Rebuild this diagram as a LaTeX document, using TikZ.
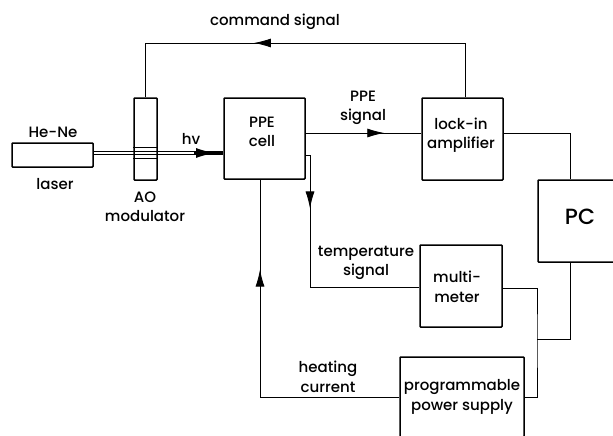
\documentclass[tikz,border=0pt]{standalone}
\usepackage{fontspec}
\setmainfont{Poppins Medium}
\usetikzlibrary{arrows.meta, decorations.markings}

\tikzset{
  blk/.style={draw, line width=1.5pt, rounded corners=0.8pt, inner sep=0pt, align=center},
  lbl/.style={inner sep=0pt, align=center},
  wire/.style={line width=0.9pt},
  midarrow/.style={postaction={decorate, decoration={markings,
      mark=at position #1 with {\arrow{Latex[length=17pt, width=9pt]}}}}}
}

\begin{document}
\begin{tikzpicture}[x=1pt, y=-1pt, font=\fontsize{15}{19.5}\selectfont]

\clip (0, 0) rectangle (613, 436);

% boxes
\node[blk, minimum width=81, minimum height=24] (laser) at (52.5, 155) {};
\node[blk, minimum width=23, minimum height=82] (aom) at (145.5, 139) {};
\node[blk, minimum width=81, minimum height=81] (ppe) at (264.5, 138.5) {};
\node[blk, minimum width=81, minimum height=82] (lockin) at (462.5, 139) {};
\node[blk, minimum width=120, minimum height=82] (pc) at (598, 221) {};
\node[blk, minimum width=82, minimum height=82] (meter) at (461, 286) {};
\node[blk, minimum width=124, minimum height=80] (supply) at (462, 397) {};

% labels
\node[lbl] (hene) at (53, 132) {He-Ne};
\node[lbl] (laserlbl) at (55, 184) {laser};
\node[lbl] (aomlbl) at (145, 207) {AO\\modulator};
\node[lbl] (hv) at (191, 139) {hv};
\node[lbl] (ppelbl) at (262, 132) {PPE\\cell};
\node[lbl] (sig) at (363, 108) {PPE\\signal};
\node[lbl] (locklbl) at (461, 135) {lock-in\\amplifier};
\node[lbl, font=\fontsize{22}{24}\selectfont] (pclbl) at (580, 217) {PC};
\node[lbl] (cmd) at (275, 22) {command signal};
\node[lbl] (temp) at (366, 263) {temperature\\signal};
\node[lbl] (meterlbl) at (457, 287) {multi-\\meter};
\node[lbl] (heat) at (328, 377) {heating\\current};
\node[lbl] (supplylbl) at (462, 397) {programmable\\power supply};

% junctions
\coordinate (ppesig) at (ppe.east |- 0, 133);
\coordinate (locksig) at (lockin.west |- 0, 133);
\coordinate (lockpc) at (lockin.east |- 0, 133);
\coordinate (pctop) at (570, 0 |- pc.north);
\coordinate (pcbot) at (570, 0 |- pc.south);
\coordinate (bus) at (537, 339);
\coordinate (lockup) at (465, 0 |- lockin.north);
\coordinate (ppetemp) at (ppe.east |- 0, 155);
\coordinate (ppeheat) at (260, 0 |- ppe.south);
\coordinate (laserout) at (laser.east |- 0, 153);
\coordinate (ppein) at (ppe.west |- 0, 153);

% beam
\draw[wire] ([yshift=1.5]laserout) -- ([yshift=1.5]ppein);
\draw[wire] ([yshift=-1.5]laserout) -- ([yshift=-1.5]ppein);
\draw[line width=0.7pt] (aom.west |- 0, 147) -- (aom.east |- 0, 147);
\draw[line width=0.7pt] (aom.west |- 0, 158) -- (aom.east |- 0, 158);
\draw[line width=1.5pt, -{Latex[length=19pt, width=10pt]}] (194, 153) -- (215, 153);
\draw[line width=2pt] (207, 153) -- (ppein);

% signals
\draw[wire, midarrow=0.62] (lockup) -- (465, 43) -- (aom.north |- 0, 43) -- (aom.north);
\draw[wire, midarrow=0.68] (ppesig) -- (locksig);
\draw[wire] (lockpc) -| (pctop);
\draw[wire, midarrow=0.235] (ppetemp) -- (310, 155) -- (310, 287) -- (meter.west |- 0, 287);
\draw[wire] (meter.east |- 0, 288) -| (bus) |- (supply.east);
\draw[wire] (pcbot) |- (bus);
\draw[wire, midarrow=0.748] (supply.west) -| (ppeheat);

\end{tikzpicture}
\end{document}
